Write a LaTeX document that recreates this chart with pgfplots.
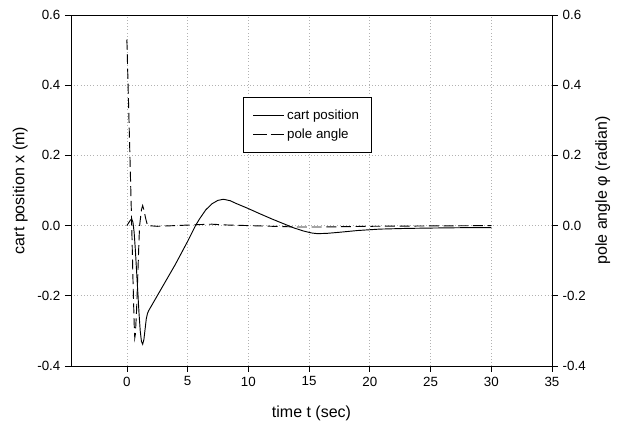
\documentclass[border=0pt]{standalone}
\usepackage{pgfplots}
\pgfplotsset{compat=1.18}
\usepackage{fontspec}
\setmainfont{Liberation Sans}
\begin{document}
\begin{tikzpicture}
\useasboundingbox (-53.25pt,-44.25pt) rectangle (411pt,274.5pt);
\pgfplotsset{
  common/.style={
    at={(0,0)}, anchor=south west,
    scale only axis, width=360.75pt, height=263.25pt,
    xmin=-4.6, xmax=35, ymin=-0.4, ymax=0.6,
    xtick={0,5,10,15,20,25,30,35},
    ytick={-0.4,-0.2,0,0.2,0.4,0.6},
    tick align=outside, major tick length=4.5pt,
    tick style={black, line width=0.5pt},
    axis line style={black, line width=0.6pt},
    /pgf/number format/assume math mode=true,
    tick label style={font=\fontsize{10}{12}\selectfont},
    label style={font=\fontsize{12}{14}\selectfont},
    yticklabel style={/pgf/number format/.cd, fixed, fixed zerofill, precision=1},
  }
}
\begin{axis}[common,
  xtick pos=left, ytick pos=left,
  grid=major, major grid style={gray!60, dotted, line width=0.5pt},
  xlabel={time t (sec)},
  ylabel={cart position x (m)},
  xlabel style={at={(axis description cs:0.5,-0.134)}, anchor=center},
  ylabel style={at={(axis description cs:-0.1053,0.5)}, anchor=center, rotate=0},
  legend image code/.code={\draw[#1] (0cm,0cm) -- (23pt,0cm);},
  legend cell align=left,
  legend style={at={(axis description cs:0.358,0.766)}, anchor=north west,
    draw=black, line width=0.5pt, font=\fontsize{10}{12}\selectfont,
    inner xsep=7pt, inner ysep=7pt, row sep=1.5pt},
]
\addplot[black, line width=0.7pt] coordinates {
(0,0) (0.15,0.008) (0.3,0.016) (0.4,0.018) (0.5,0.01) (0.6,-0.02) (0.7,-0.07)
(0.8,-0.13) (0.9,-0.19) (1.0,-0.25) (1.1,-0.30) (1.2,-0.33) (1.3,-0.338)
(1.4,-0.325) (1.5,-0.295) (1.6,-0.265) (1.7,-0.25) (1.8,-0.242) (2.0,-0.23)
(3,-0.17) (4,-0.11) (5,-0.045) (5.65,0) (6,0.02) (6.5,0.045) (7,0.062)
(7.5,0.072) (7.95,0.075) (8.5,0.071) (9,0.063) (9.9,0.05) (11,0.033)
(12,0.018) (13,0.004) (13.7,-0.006) (14.5,-0.015) (15.2,-0.021) (15.7,-0.023)
(16.5,-0.022) (17.5,-0.019) (19,-0.014) (20.8,-0.01) (23,-0.008) (25,-0.007)
(27.5,-0.006) (30,-0.006)
};
\addlegendentry{cart position}
\addlegendimage{black, line width=0.7pt, dash pattern=on 10pt off 3pt}
\addlegendentry{pole angle}
\end{axis}
\begin{axis}[common,
  xtick=\empty, ytick pos=right, yticklabel pos=right,
  ylabel={pole angle φ (radian)},
  ylabel style={at={(axis description cs:1.1053,0.5)}, anchor=center, rotate=0},
]
\addplot[black, line width=0.7pt, dash pattern=on 7.5pt off 3.5pt] coordinates {
(0,0.53) (0.1,0.4) (0.25,0.2) (0.4,0.0) (0.5,-0.15) (0.6,-0.28) (0.65,-0.32)
(0.7,-0.31) (0.8,-0.24) (0.9,-0.14) (1.0,-0.04) (1.05,0) (1.2,0.045)
(1.3,0.057) (1.4,0.045) (1.55,0.02) (1.7,0.0) (2.5,-0.002) (4,0.0) (6,0.003)
(7,0.004) (8,0.002) (10,0.0) (12,-0.002) (14,-0.004) (16,-0.004) (18,-0.003)
(20,-0.002) (25,-0.001) (30,0)
};
\end{axis}
\end{tikzpicture}
\end{document}
